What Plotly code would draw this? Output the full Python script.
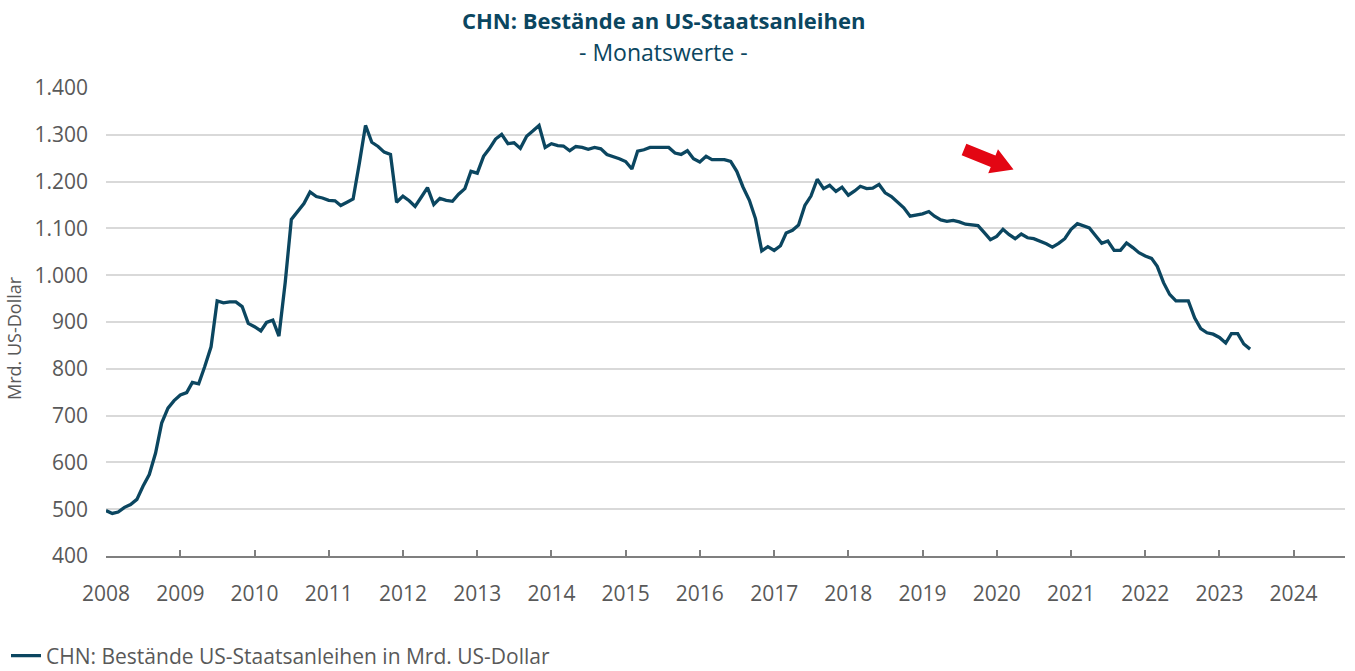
import math
import pandas as pd
import plotly.graph_objects as go

# Monthly values, Jan 2008 .. Jun 2023 (Mrd. US-Dollar)
start_month = "2008-01-01"
values = [
    # 2008
    497, 491, 494, 504, 510, 521, 549, 574, 620, 684, 716, 732,
    # 2009
    744, 749, 771, 768, 805, 847, 945, 941, 943, 943, 933, 897,
    # 2010
    890, 881, 899, 904, 870, 985, 1119, 1137, 1153, 1178, 1168, 1165,
    # 2011
    1160, 1159, 1149, 1156, 1163, 1240, 1320, 1284, 1275, 1263, 1258, 1156,
    # 2012
    1169, 1159, 1147, 1167, 1187, 1151, 1164, 1160, 1158, 1173, 1185, 1222,
    # 2013
    1218, 1254, 1270, 1291, 1301, 1281, 1283, 1271, 1297, 1308, 1320, 1273,
    # 2014
    1281, 1277, 1276, 1266, 1275, 1273, 1269, 1273, 1270, 1258, 1254, 1249,
    # 2015
    1243, 1227, 1265, 1268, 1273, 1273, 1272, 1273, 1261, 1258, 1266, 1249,
    # 2016
    1242, 1254, 1247, 1247, 1247, 1243, 1222, 1188, 1160, 1121, 1052, 1061,
    # 2017
    1053, 1063, 1090, 1096, 1107, 1149, 1169, 1205, 1185, 1192, 1179, 1188,
    # 2018
    1171, 1180, 1190, 1185, 1186, 1194, 1176, 1168, 1155, 1144, 1126, 1129,
    # 2019
    1131, 1136, 1126, 1118, 1115, 1117, 1114, 1109, 1107, 1106, 1091, 1076,
    # 2020
    1083, 1098, 1087, 1078, 1088, 1080, 1078, 1073, 1067, 1060, 1068, 1078,
    # 2021
    1098, 1110, 1106, 1101, 1085, 1068, 1073, 1053, 1053, 1069, 1059, 1048,
    # 2022
    1041, 1036, 1019, 984, 959, 945, 945, 945, 909, 886, 877, 874,
    # 2023
    867, 855, 875, 875, 853, 842,
]
months = pd.date_range(start_month, periods=len(values), freq="MS")

year_ticks = [f"{y}-01-01" for y in range(2008, 2025)]
year_labels = [str(y) for y in range(2008, 2025)]
y_ticks = [400, 500, 600, 700, 800, 900, 1000, 1100, 1200, 1300, 1400]

title_text = "CHN: Bestände an US-Staatsanleihen"
subtitle_text = "- Monatswerte -"
series_name = "CHN: Bestände US-Staatsanleihen in Mrd. US-Dollar"
y_title = "Mrd. US-Dollar"

LINE = "#0B4660"
TXT = "#595959"
RED = "#E30613"
FONT = "Open Sans"

fig = go.Figure()
fig.add_trace(go.Scatter(
    x=months, y=values, mode="lines", name=series_name,
    line=dict(color=LINE, width=3.3),
))

W, H = 1355, 671
L, R, T, B = 106, 10, 88, 115
PW, PH = W - L - R, H - T - B


def px(x):
    return (x - L) / PW


def py(y):
    return (H - B - y) / PH


# Red trend arrow (decoration), built as a polygon in page pixels
tail = (964.0, 149.5)
tip = (1013.5, 169.5)
head_len, body_hw, head_hw = 22.0, 6.3, 13.0
dx, dy = tip[0] - tail[0], tip[1] - tail[1]
ln = math.hypot(dx, dy)
ux, uy = dx / ln, dy / ln
nx, ny = -uy, ux
base = (tip[0] - ux * head_len, tip[1] - uy * head_len)
pts = [
    (tail[0] + nx * body_hw, tail[1] + ny * body_hw),
    (base[0] + nx * body_hw, base[1] + ny * body_hw),
    (base[0] + nx * head_hw, base[1] + ny * head_hw),
    tip,
    (base[0] - nx * head_hw, base[1] - ny * head_hw),
    (base[0] - nx * body_hw, base[1] - ny * body_hw),
    (tail[0] - nx * body_hw, tail[1] - ny * body_hw),
]
arrow_path = "M " + " L ".join(f"{px(a):.5f},{py(b):.5f}" for a, b in pts) + " Z"

fig.update_layout(
    width=W, height=H,
    margin=dict(l=L, r=R, t=T, b=B, autoexpand=False),
    paper_bgcolor="white", plot_bgcolor="white",
    separators=",.",
    font=dict(family=FONT, color=TXT, size=20),
    showlegend=True,
    legend=dict(
        orientation="h", xref="container", yref="container",
        x=6 / W, y=1 - 656 / H, xanchor="left", yanchor="middle",
        font=dict(size=21, color=TXT), itemwidth=30,
        bgcolor="rgba(0,0,0,0)",
    ),
    xaxis=dict(
        type="date",
        range=["2008-01-01", "2024-09-10"],
        tickvals=year_ticks, ticktext=year_labels,
        showgrid=False, zeroline=False,
        showline=True, linecolor="#7F7F7F", linewidth=2,
        ticks="inside", ticklen=6, tickwidth=2, tickcolor="#7F7F7F",
        ticklabelstandoff=18, automargin=False,
        tickfont=dict(size=21, color=TXT),
    ),
    yaxis=dict(
        range=[400, 1400],
        tickvals=y_ticks,
        tickformat=",d",
        showgrid=True, gridcolor="#D9D9D9", gridwidth=1.5,
        zeroline=False, showline=False, ticks="",
        ticklabelstandoff=17, automargin=False,
        tickfont=dict(size=21, color=TXT),
    ),
    shapes=[
        dict(type="path", path=arrow_path, xref="paper", yref="paper",
             fillcolor=RED, line=dict(width=0), layer="above"),
    ],
    annotations=[
        dict(text=f"<b>{title_text}</b>", xref="paper", yref="paper",
             x=px(663), y=py(20), xanchor="center", yanchor="middle",
             showarrow=False, font=dict(size=22, color=LINE, family=FONT)),
        dict(text=subtitle_text, xref="paper", yref="paper",
             x=px(663), y=py(52), xanchor="center", yanchor="middle",
             showarrow=False, font=dict(size=23, color=LINE, family=FONT)),
        dict(text=y_title, xref="paper", yref="paper",
             x=px(14), y=py(338), xanchor="center", yanchor="middle",
             textangle=-90, showarrow=False, font=dict(size=18, color=TXT)),
    ],
)

fig.write_html(
    "out.html",
    config={"displayModeBar": False},
    post_script="document.body.style.margin='0';document.body.style.overflow='hidden';",
)
